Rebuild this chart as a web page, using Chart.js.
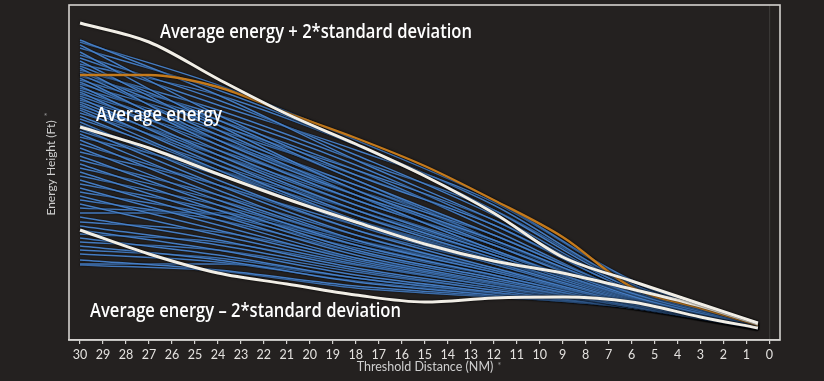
<!DOCTYPE html>
<html>
<head>
<meta charset="utf-8">
<script src="https://cdn.jsdelivr.net/npm/chart.js@4.4.1/dist/chart.umd.min.js"></script>
<style>
html,body{margin:0;padding:0;background:#242120;}
#wrap{width:824px;height:381px;position:relative;}
</style>
</head>
<body>
<div id="wrap"><canvas id="c" width="824" height="381"></canvas></div>
<script>
// Threshold distances (NM) for the tick labels
const distanceTicks = [30,29,28,27,26,25,24,23,22,21,20,19,18,17,16,15,14,13,12,11,10,9,8,7,6,5,4,3,2,1,0];
// Distances where the reference curves were read
const refDistances = [30,27,24,21,18,15,12,9,6,3,0.5];
const upperBand   = [3170,2980,2610,2260,1960,1640,1270,830,590,360,170];
const highlighted = [2650,2650,2530,2270,2020,1740,1400,1030,530,320,150];
const averageEnergy = [2130,1920,1660,1410,1180,960,790,670,510,340,160];
const lowerBand   = [1100,860,670,560,450,380,420,430,380,230,120];
// Distances where the individual approaches were read
const flightDistances = [30,24,18,12,6,0.5];
const flights = [
  [3000,2450,1800,1200,520,165],
  [2980,2550,2000,1400,600,175],
  [2950,2250,1650,1150,500,160],
  [2920,2500,1950,1300,540,165],
  [2880,2150,1500,1000,470,150],
  [2850,2400,1850,1250,520,160],
  [2820,2350,1900,1380,590,170],
  [2790,2100,1500,950,440,145],
  [2760,2450,1950,1350,560,170],
  [2740,2200,1600,1050,480,150],
  [2720,2000,1450,1000,460,145],
  [2700,2300,1800,1300,560,165],
  [2680,2150,1700,1200,520,160],
  [2660,2050,1450,900,430,140],
  [2640,2250,1750,1150,500,155],
  [2620,1950,1400,950,450,145],
  [2600,2200,1700,1100,470,150],
  [2580,2000,1500,1050,480,150],
  [2560,2150,1600,1000,450,145],
  [2540,1900,1350,880,420,140],
  [2520,2100,1650,1150,500,155],
  [2500,2000,1450,900,430,140],
  [2480,1850,1300,850,410,135],
  [2460,2050,1550,1050,470,150],
  [2440,1950,1400,950,440,145],
  [2420,1800,1250,820,400,135],
  [2400,2000,1550,1000,450,145],
  [2380,1850,1350,900,430,140],
  [2360,1750,1200,780,390,135],
  [2340,1900,1450,980,450,145],
  [2320,1800,1300,850,410,140],
  [2300,1700,1150,760,380,130],
  [2270,1850,1400,950,440,145],
  [2240,1700,1200,800,400,135],
  [2210,1750,1300,880,420,140],
  [2180,1600,1100,720,370,130],
  [2150,1700,1250,850,410,140],
  [2120,1550,1050,700,360,130],
  [2090,1650,1200,820,400,135],
  [2060,1500,1000,680,360,125],
  [2030,1700,1300,880,420,140],
  [2000,1450,1000,700,370,130],
  [1960,1550,1150,780,390,135],
  [1920,1400,950,650,350,125],
  [1880,1550,1100,760,390,135],
  [1840,1350,900,620,340,120],
  [1800,1450,1050,700,380,130],
  [1760,1300,880,600,340,120],
  [1720,1400,1000,720,380,130],
  [1680,1250,850,580,330,120],
  [1640,1350,980,680,370,125],
  [1600,1200,820,570,330,115],
  [1560,1300,950,650,360,125],
  [1520,1150,800,560,330,115],
  [1480,1250,920,640,360,125],
  [1440,1100,780,540,330,115],
  [1400,1200,880,620,350,120],
  [1360,1050,760,540,330,115],
  [1320,1250,1000,700,380,130],
  [1270,1270,950,650,360,125],
  [1230,1000,720,520,330,115],
  [1180,1080,820,570,340,120],
  [1140,950,700,500,320,110],
  [1100,900,650,480,320,110],
  [1060,980,750,540,330,115],
  [1020,850,620,470,320,110],
  [980,900,680,500,330,115],
  [940,800,580,450,320,110],
  [900,820,620,470,320,110],
  [860,780,590,460,330,115],
  [800,700,540,440,320,110],
  [760,760,620,460,320,110],
  [750,690,520,430,330,110]
];
const labels = [
  {text:'Average energy + 2*standard deviation', x:160, y:38, w:312},
  {text:'Average energy', x:96, y:121, w:126},
  {text:'Average energy \u2013 2*standard deviation', x:90, y:317, w:311}
];

function pts(xs, ys){ return xs.map((x,i)=>({x:x, y:ys[i]})); }

const datasets = [];
function addLine(xs, ys, color, width, kind){
  datasets.push({data:pts(xs,ys), borderColor:color, borderWidth:width, pointRadius:0,
    cubicInterpolationMode:'monotone', fill:false, kind:kind});
}
addLine(refDistances, upperBand, '#f1eee6', 3, 'white');
addLine(refDistances, averageEnergy, '#f1eee6', 3, 'white');
addLine(refDistances, lowerBand, '#f1eee6', 3, 'white');
addLine(refDistances, highlighted, '#c47a1c', 2.4, 'orange');
flights.forEach(f => addLine(flightDistances, f, 'rgba(74,134,208,0.92)', 1.5, 'blue'));

const decor = {
  id:'decor',
  beforeDatasetDraw(chart, args){
    const ctx = chart.ctx;
    ctx.save();
    const k = args.meta._dataset.kind;
    ctx.shadowColor = 'rgba(0,0,0,0.95)';
    ctx.shadowBlur = k==='blue' ? 2 : 2.5;
  },
  afterDatasetDraw(chart){ chart.ctx.restore(); },
  afterDraw(chart){
    const ctx = chart.ctx, a = chart.chartArea;
    ctx.save();
    ctx.strokeStyle = '#d4d2cf';
    ctx.lineWidth = 1.6;
    ctx.strokeRect(a.left, a.top, a.right-a.left, a.bottom-a.top);
    // annotations
    ctx.fillStyle = '#ffffff';
    ctx.textBaseline = 'alphabetic';
    ctx.font = '600 19px "Open Sans"';
    labels.forEach(l => {
      const m = ctx.measureText(l.text).width;
      ctx.save();
      ctx.translate(l.x, l.y);
      ctx.scale(l.w/m, 1);
      ctx.fillText(l.text, 0, 0);
      ctx.restore();
    });
    // axis titles
    ctx.fillStyle = '#cfcfcf';
    ctx.font = '12.5px Lato';
    ctx.textAlign = 'center';
    ctx.textBaseline = 'middle';
    const xt = 'Threshold Distance (NM)';
    ctx.fillText(xt, 425, 367);
    const xw = ctx.measureText(xt).width;
    ctx.save();
    ctx.translate(51, 168);
    ctx.rotate(-Math.PI/2);
    const yt = 'Energy Height (Ft)';
    ctx.font = '12px Lato';
    ctx.fillText(yt, 0, 0);
    const yw = ctx.measureText(yt).width;
    ctx.font = '9px Lato';
    ctx.fillStyle = '#9a9a9a';
    ctx.fillText('*', yw/2+6, -3);
    ctx.restore();
    ctx.font = '9px Lato';
    ctx.fillStyle = '#9a9a9a';
    ctx.fillText('*', 425 + xw/2 + 6, 366);
    ctx.restore();
  }
};

new Chart(document.getElementById('c'), {
  type:'line',
  data:{datasets:datasets},
  options:{
    responsive:false,
    animation:false,
    events:[],
    layout:{padding:{left:69, right:44, top:5, bottom:0}},
    plugins:{legend:{display:false}, tooltip:{enabled:false}},
    scales:{
      x:{
        type:'linear', reverse:true, min:-0.46, max:30.48,
        afterBuildTicks(s){ s.ticks = distanceTicks.map(v=>({value:v})); },
        afterFit(s){ s.height = 41; },
        grid:{
          color:c => (c.tick && c.tick.value===0) ? '#3a3836' : 'rgba(0,0,0,0)',
          tickColor:'#d4d2cf', tickLength:4, drawOnChartArea:true, lineWidth:1.2
        },
        border:{color:'#d4d2cf', width:1.6},
        ticks:{color:'#e4e2df', font:{family:'Lato', size:12.5}, padding:3, maxRotation:0, autoSkip:false,
          callback:v => String(v)}
      },
      y:{display:false, min:0, max:3350}
    }
  },
  plugins:[decor]
});
</script>
</body>
</html>
